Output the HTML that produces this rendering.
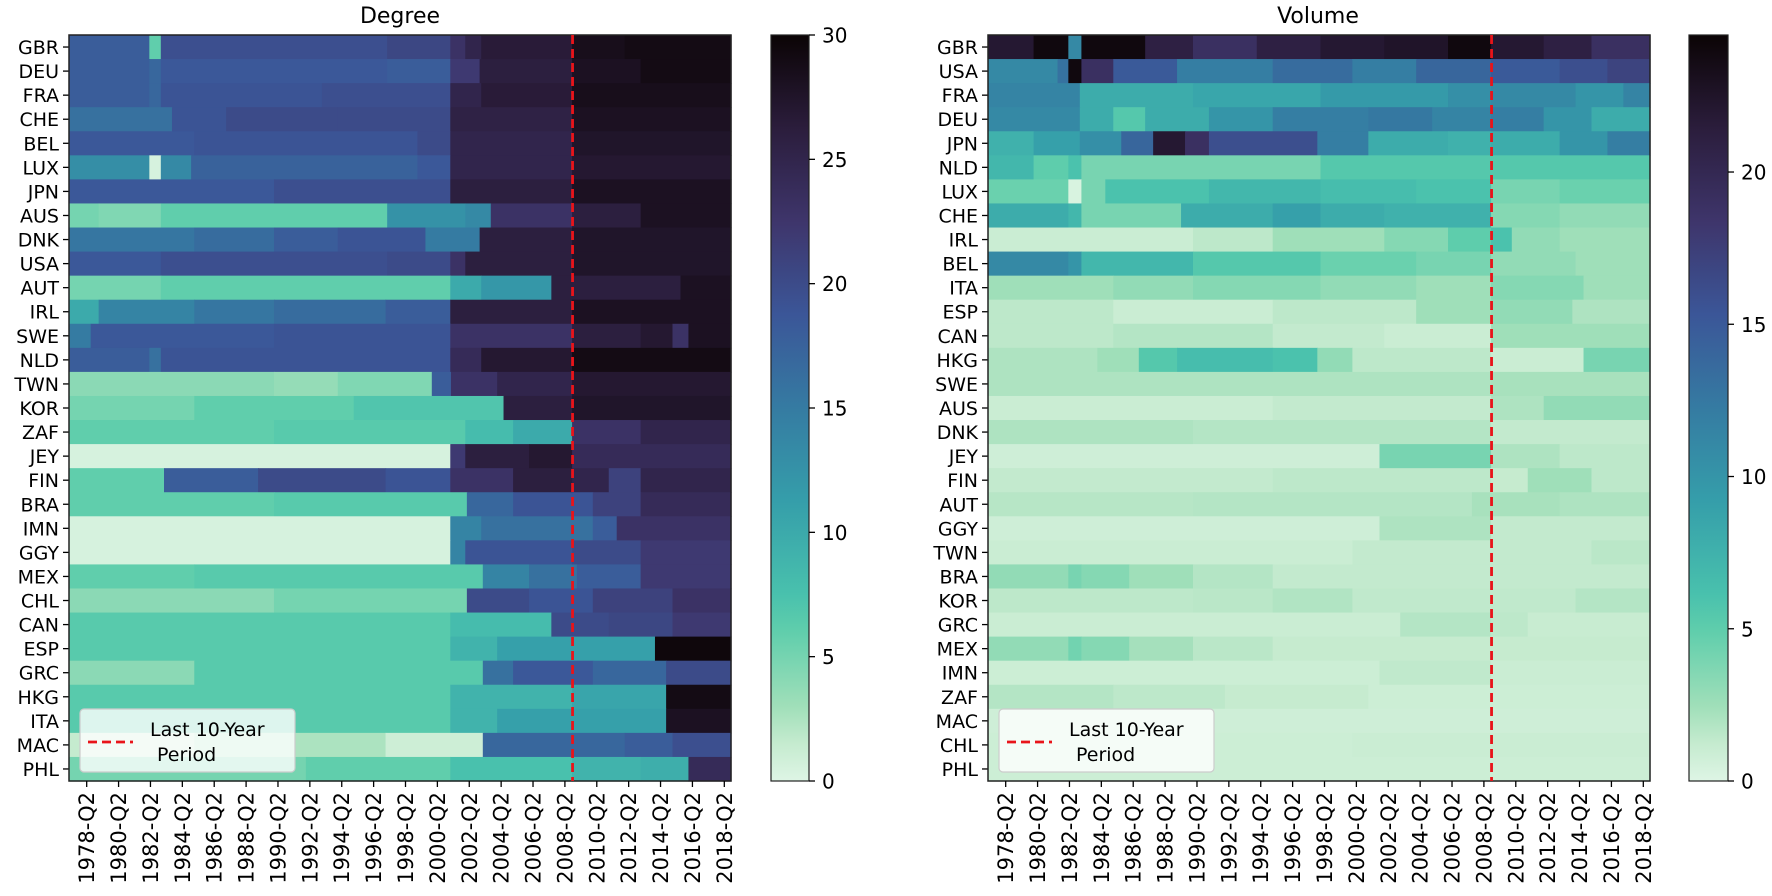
<!DOCTYPE html>
<html><head><meta charset="utf-8"><style>
html,body{margin:0;padding:0;background:#fff;}
svg{display:block;font-family:"DejaVu Sans","Liberation Sans",sans-serif;}
</style></head>
<body>
<svg id="fig" width="1772" height="896" viewBox="0 0 1772 896" xmlns="http://www.w3.org/2000/svg">
<defs>
<linearGradient id="cbar" x1="0" y1="1" x2="0" y2="0">
<stop offset="0" stop-color="#DEF5E5"/><stop offset="0.05" stop-color="#C5EBCF"/><stop offset="0.1" stop-color="#A0DFB9"/><stop offset="0.2" stop-color="#60CEAC"/><stop offset="0.25" stop-color="#49C1AD"/><stop offset="0.375" stop-color="#359EAA"/><stop offset="0.5" stop-color="#357BA2"/><stop offset="0.625" stop-color="#3B5698"/><stop offset="0.75" stop-color="#3E356B"/><stop offset="0.875" stop-color="#2B1D3C"/><stop offset="1" stop-color="#0B0405"/>
</linearGradient>
</defs>
<text x="400" y="23" font-size="22" text-anchor="middle">Degree</text>
<text x="1318" y="23" font-size="22" text-anchor="middle">Volume</text>
<g id="left"></g>
<g id="right"></g>
</svg>
<script>
const degreeRows = ["GBR","DEU","FRA","CHE","BEL","LUX","JPN","AUS","DNK","USA","AUT","IRL","SWE","NLD","TWN","KOR","ZAF","JEY","FIN","BRA","IMN","GGY","MEX","CHL","CAN","ESP","GRC","HKG","ITA","MAC","PHL"];
const degreeValues = [
[[1977.14,18],[1982.18,6],[1982.9,19.5],[1997.1,20.5],[2001.06,23],[2002,25],[2003,26.5],[2008.7,28.5],[2012,29]],
[[1977.14,18],[1982.18,17],[1982.9,18.5],[1997.1,18],[2001.06,22],[2002.9,26],[2008.7,28],[2013,29]],
[[1977.14,18],[1982.18,17],[1982.9,19],[1993,19.5],[2001.06,25],[2003,26.5],[2008.7,28.5]],
[[1977.14,16],[1983.6,19],[1987,20],[1994,20],[2001.06,25.5],[2008.7,28]],
[[1977.14,18.5],[1985,19],[1999,20],[2001.06,25],[2008.7,27.5]],
[[1977.14,13],[1982.18,0.5],[1982.9,13.5],[1984.8,17.5],[1999,18.5],[2001.06,25],[2008.7,27]],
[[1977.14,18.5],[1990,19.5],[2001.06,26],[2008.7,28]],
[[1977.14,5],[1979,4.5],[1982.9,6],[1997.1,12.5],[2002,13.5],[2003.6,23],[2008.7,26],[2013,28]],
[[1977.14,15.5],[1985,16.5],[1990,18],[1994,19],[1999.5,15],[2002.9,26],[2008.7,27.5]],
[[1977.14,18.5],[1982.9,19.5],[1997.1,20],[2001.06,23],[2002,26],[2008.7,27.5]],
[[1977.14,5],[1982.9,6],[2001.06,10],[2003,12],[2007.4,26],[2015.5,28]],
[[1977.14,10],[1979,14],[1985,15.5],[1990,16.5],[1997,18],[2001.06,26],[2008.7,28]],
[[1977.14,15],[1978.5,18.5],[1990,19],[2001.06,23],[2008.7,26],[2013,27],[2015,23],[2016,28]],
[[1977.14,18],[1982.18,16],[1982.9,19],[2001.06,24],[2003,27],[2008.7,29]],
[[1977.14,4],[1990,3.5],[1994,4.5],[1999.9,18],[2001.1,23],[2004,25],[2008.7,27]],
[[1977.14,5],[1985,6],[1995,7],[2004.4,26],[2008.7,27.5]],
[[1977.14,6],[1990,6.5],[2002,8],[2005,10],[2008.7,23],[2013,25]],
[[1977.14,0.5],[2001.06,22],[2002,26],[2006,27],[2008.7,24]],
[[1977.14,6],[1983.1,18],[1989,20],[1997,19],[2001.06,23],[2005,26],[2008.7,25],[2011,21],[2013,25]],
[[1977.14,6],[1990,6.5],[2002.1,17],[2005,19],[2010,21],[2013,24]],
[[1977.14,0.5],[2001.06,14],[2003,16],[2010,18],[2011.5,23]],
[[1977.14,0.5],[2001.06,14],[2002,19],[2008.7,20],[2013,22]],
[[1977.14,6],[1985,6.5],[2003.1,14],[2006,16],[2009,18],[2013,22]],
[[1977.14,4],[1990,5],[2002.1,20],[2006,19],[2010,21],[2015,23]],
[[1977.14,6.5],[2001.06,8],[2007.4,20],[2011,20.5],[2015,22]],
[[1977.14,6.5],[2001.06,9],[2004,11],[2013.9,29.5]],
[[1977.14,4],[1985,6.5],[2003.1,16],[2005,18.5],[2010,17],[2014.6,20]],
[[1977.14,6.5],[2001.06,9],[2008.7,10.5],[2014.6,29]],
[[1977.14,6.5],[2001.06,9],[2004,11],[2014.6,28]],
[[1977.14,1.5],[1985,2.5],[1997,1],[2003.1,17],[2008.7,17],[2012,18],[2015,19.5]],
[[1977.14,5],[1992,6],[2001.06,7.5],[2008.7,9],[2013,9.5],[2016,24]]
];
const volumeRows = ["GBR","USA","FRA","DEU","JPN","NLD","LUX","CHE","IRL","BEL","ITA","ESP","CAN","HKG","SWE","AUS","DNK","JEY","FIN","AUT","GGY","TWN","BRA","KOR","GRC","MEX","IMN","ZAF","MAC","CHL","PHL"];
const volumeValues = [
[[1977.14,22],[1980,24],[1982.18,11],[1983,24],[1987,21],[1990,19],[1994,21],[1998,22],[2002,22.5],[2006,24],[2008.7,22],[2012,21],[2015,19]],
[[1977.14,11],[1981.5,13],[1982.18,24],[1983,19],[1985,15],[1989,12],[1995,13.5],[2000,12],[2004,14],[2008.7,15],[2013,16],[2016,17]],
[[1977.14,11.5],[1982.9,8],[1990,8.5],[1998,9.5],[2006,10.5],[2008.7,11],[2014,10],[2017,11.5]],
[[1977.14,11],[1982.9,8],[1985,5.5],[1987,8],[1991,10],[1995,12],[2001,12.5],[2005,11.5],[2008.7,12],[2012,10],[2015,8]],
[[1977.14,7.5],[1980,9],[1982.9,10.5],[1985.5,14],[1987.5,22],[1989.5,19],[1991,16],[1997.8,12],[2001,8],[2006,7.5],[2008.7,8],[2013,10],[2016,12]],
[[1977.14,7],[1980,5],[1982.18,6],[1983,4],[1998,5.5],[2008.7,5.5]],
[[1977.14,4.5],[1982.18,0.3],[1983,4],[1984.5,6],[1991,7],[1998,6.5],[2004,6],[2008.7,4],[2013,4.5]],
[[1977.14,8],[1982.18,7],[1983,4],[1989.25,8],[1995,9],[1998,8],[2002,7.5],[2008.7,3.5],[2013,3]],
[[1977.14,1],[1990,1.5],[1995,2.5],[2002,3.5],[2006,5],[2008.7,6],[2010,3],[2013,2.5]],
[[1977.14,11],[1982.18,10],[1983,7],[1990,5.5],[1998,4.5],[2004,4],[2008.7,3],[2014,2.5]],
[[1977.14,2.5],[1985,3],[1990,3.5],[1998,3],[2004,2.5],[2008.7,3.5],[2014.5,2.5]],
[[1977.14,1.5],[1985,1],[1995,1.5],[2004,2.5],[2008.7,3],[2013.8,2]],
[[1977.14,1.5],[1985,1.8],[1995,1.3],[2002,1],[2008.7,2.5],[2014,2.5]],
[[1977.14,2],[1984,2.5],[1986.6,5.5],[1989,6.5],[1995,6],[1997.8,3],[2000,1.5],[2008.7,1],[2014.5,4]],
[[1977.14,2],[2008.7,2.2]],
[[1977.14,1],[1995,1.3],[2008.7,2],[2012,3]],
[[1977.14,2],[1990,1.8],[2008.7,1.3]],
[[1977.14,0.8],[2001.7,4],[2008.7,2],[2013,1.5]],
[[1977.14,1.3],[1995,1.5],[2008.7,1.2],[2011,2.5],[2015,1.5]],
[[1977.14,1.7],[1990,1.8],[2007.5,2.2],[2013,2]],
[[1977.14,0.8],[2001.7,2],[2008.7,1.3]],
[[1977.14,1],[2000,1.3],[2015,1.6]],
[[1977.14,3],[1982.18,4],[1983,3.5],[1986,2.5],[1990,1.8],[1995,1.3]],
[[1977.14,1.5],[1990,1.6],[1995,1.9],[2000,1.4],[2014,1.8]],
[[1977.14,1],[2003,1.8],[2008.7,1.5],[2011,1.1]],
[[1977.14,3],[1982.18,4.2],[1983,3.5],[1986,2.3],[1990,1.6],[1995,1.2]],
[[1977.14,0.9],[2001.7,1.4],[2008.7,1]],
[[1977.14,1.8],[1985,1.5],[1992,1.2],[2001,0.9]],
[[1977.14,0.8]],
[[1977.14,0.9],[2000,1]],
[[1977.14,0.9]]
];
const xTickYears = [1978,1980,1982,1984,1986,1988,1990,1992,1994,1996,1998,2000,2002,2004,2006,2008,2010,2012,2014,2016,2018];
const degreeTicks = [0,5,10,15,20,25,30];
const volumeTicks = [0,5,10,15,20];
const degreeMax = 30, volumeMax = 24.5;
const periodStart = 2008.73;

const T0 = 1977.14, T1 = 2018.67, W = 662, TOP = 35, BOT = 781;
const NS = "http://www.w3.org/2000/svg";
const stops = [[0,[222,245,229]],[0.05,[197,235,207]],[0.1,[160,223,185]],[0.2,[96,206,172]],[0.25,[73,193,173]],[0.375,[53,158,170]],[0.5,[53,123,162]],[0.625,[59,86,152]],[0.75,[62,53,107]],[0.875,[43,29,60]],[1,[11,4,5]]];
function cmap(f){f=Math.max(0,Math.min(1,f));for(let i=1;i<stops.length;i++){if(f<=stops[i][0]){const a=stops[i-1],b=stops[i];const u=(f-a[0])/(b[0]-a[0]);const c=a[1].map((v,k)=>Math.round(v+(b[1][k]-v)*u));return `rgb(${c[0]},${c[1]},${c[2]})`;}}return "rgb(11,4,5)";}
function mk(tag,attrs,parent){const e=document.createElementNS(NS,tag);for(const k in attrs)e.setAttribute(k,attrs[k]);parent.appendChild(e);return e;}

function drawChart(g,x0,rows,values,vmax,ticks,cbx,cbw,prefix){
  const xs=t=>x0+(t-T0)/(T1-T0)*W;
  const rh=(BOT-TOP)/rows.length;
  const ys=i=>TOP+i*rh;
  rows.forEach((name,i)=>{
    const segs=values[i];
    segs.forEach((s,j)=>{
      const tEnd=j+1<segs.length?segs[j+1][0]:T1;
      const r=mk("rect",{x:xs(s[0]).toFixed(2),y:ys(i).toFixed(2),width:(xs(tEnd)-xs(s[0])+0.6).toFixed(2),height:(rh+0.6).toFixed(2),fill:cmap(s[1]/vmax)},g);
      
      
    });
    const tk=mk("line",{x1:x0-6,x2:x0,y1:ys(i)+rh/2,y2:ys(i)+rh/2,stroke:"#000","stroke-width":1.3},g);
    
    
    const lb=mk("text",{x:x0-10,y:ys(i)+rh/2+7,"font-size":19,"text-anchor":"end"},g);
    lb.textContent=name;
    
    
  });
  const fr=mk("rect",{x:x0,y:TOP,width:W,height:BOT-TOP,fill:"none",stroke:"#222","stroke-width":1.5},g);
  
  
  xTickYears.forEach(yr=>{
    const x=xs(yr+0.25);
    const t=mk("line",{x1:x,x2:x,y1:BOT,y2:BOT+6,stroke:"#000","stroke-width":1.3},g);
    
    
    const tx=mk("text",{x:0,y:0,"font-size":21,"text-anchor":"end",transform:`translate(${x+7.5},${BOT+11}) rotate(-90)`},g);
    tx.textContent=yr+"-Q2";
    
    
  });
  const dl=mk("line",{x1:xs(periodStart),x2:xs(periodStart),y1:TOP,y2:BOT,stroke:"#e8141a","stroke-width":2.8,"stroke-dasharray":"9,5"},g);
  
  
  const lg=mk("g",{},g);
  
  
  mk("rect",{x:x0+11,y:709,width:215,height:63,rx:4,fill:"#ffffff","fill-opacity":0.8,stroke:"#cccccc","stroke-width":1.2},lg);
  mk("line",{x1:x0+19,x2:x0+64,y1:742,y2:742,stroke:"#e8141a","stroke-width":2.8,"stroke-dasharray":"9,5"},lg);
  const l1=mk("text",{x:x0+81,y:736,"font-size":19},lg); l1.textContent="Last 10-Year";
  const l2=mk("text",{x:x0+88,y:761,"font-size":19},lg); l2.textContent="Period";
  const cb=mk("rect",{x:cbx,y:TOP,width:cbw,height:BOT-TOP,fill:"url(#cbar)",stroke:"#222","stroke-width":1.2},g);
  
  
  ticks.forEach(v=>{
    const y=BOT-(v/vmax)*(BOT-TOP);
    const t=mk("line",{x1:cbx+cbw,x2:cbx+cbw+6,y1:y,y2:y,stroke:"#000","stroke-width":1.3},g);
    
    
    const tx=mk("text",{x:cbx+cbw+13,y:y+7.5,"font-size":20},g);
    tx.textContent=v;
    
    
  });
}
drawChart(document.getElementById("left"),69,degreeRows,degreeValues,degreeMax,degreeTicks,771,38,"degree");
drawChart(document.getElementById("right"),988,volumeRows,volumeValues,volumeMax,volumeTicks,1689,39,"volume");
</script>
</body></html>
